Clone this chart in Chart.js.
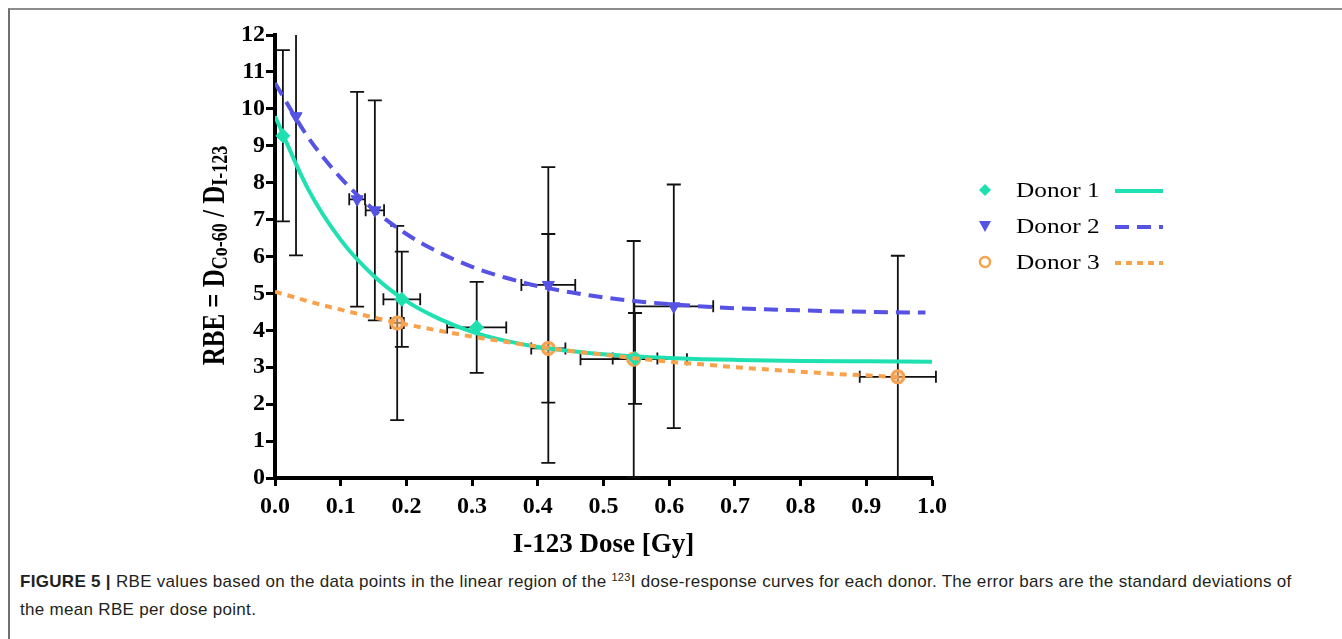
<!DOCTYPE html>
<html>
<head>
<meta charset="utf-8">
<script src="https://cdn.jsdelivr.net/npm/chart.js@4.4.0/dist/chart.umd.min.js"></script>
<style>
  html, body { margin: 0; padding: 0; background: #fff; }
  #wrap { position: relative; width: 1342px; height: 639px; overflow: hidden; }
  #frame { position: absolute; left: 8px; top: 8px; right: -4px; bottom: -4px; border-left: 2px solid #707070; border-top: 2px solid #8c8c8c; }
  #chartBox { position: absolute; left: 0; top: 0; width: 1342px; height: 565px; }
  #caption { position: absolute; left: 20px; top: 568px; font-family: "Liberation Sans", Arial, sans-serif; font-size: 17px; line-height: 28px; color: #231f20; white-space: nowrap; letter-spacing: 0.3px; }
  #caption sup { font-size: 11px; vertical-align: 6px; line-height: 0; }
</style>
</head>
<body>
<div id="wrap">
  <div id="frame"></div>
  <div id="chartBox"><canvas id="chart" width="1342" height="565"></canvas></div>
  <div id="caption"><b>FIGURE 5 |</b> RBE values based on the data points in the linear region of the <sup>123</sup>I dose-response curves for each donor. The error bars are the standard deviations of<br>the mean RBE per dose point.</div>
</div>
<script>
var donor1X  = [0.012, 0.193, 0.307, 0.548];
var donor1Y  = [9.27, 4.84, 4.08, 3.24];
var donor1EX = [0, 0.028, 0.045, 0.034];
var donor1EY = [2.32, 1.29, 1.23, 1.23];

var donor2X  = [0.032, 0.125, 0.152, 0.416, 0.607];
var donor2Y  = [9.8, 7.55, 7.25, 5.23, 4.65];
var donor2EX = [0, 0.012, 0.014, 0.041, 0.06];
var donor2EY = [3.77, 2.91, 2.98, 3.19, 3.3];

var donor3X  = [0.186, 0.416, 0.546, 0.948];
var donor3Y  = [4.2, 3.51, 3.22, 2.74];
var donor3EX = [0.01, 0.026, 0.081, 0.058];
var donor3EY = [2.63, 3.1, 3.2, 3.28];

// fitted curves
var fit1X = [0, 0.05, 0.1, 0.15, 0.2, 0.25, 0.3, 0.35, 0.4, 0.45, 0.5, 0.55, 0.6, 0.65, 0.7, 0.8, 0.9, 1.0];
var fit1Y = [9.8, 7.84, 6.45, 5.48, 4.79, 4.31, 3.96, 3.72, 3.55, 3.44, 3.35, 3.29, 3.25, 3.22, 3.2, 3.17, 3.16, 3.15];
var fit2X = [0, 0.05, 0.1, 0.15, 0.2, 0.25, 0.3, 0.35, 0.4, 0.45, 0.5, 0.55, 0.6, 0.7, 0.8, 0.9, 0.99];
var fit2Y = [10.7, 9.24, 8.13, 7.27, 6.61, 6.11, 5.72, 5.43, 5.2, 5.03, 4.89, 4.79, 4.71, 4.6, 4.54, 4.5, 4.48];
var fit3X = [0, 0.05, 0.1, 0.15, 0.2, 0.25, 0.3, 0.35, 0.4, 0.45, 0.5, 0.55, 0.6, 0.65, 0.7, 0.75, 0.8, 0.85, 0.9, 0.95];
var fit3Y = [5.05, 4.79, 4.56, 4.35, 4.16, 3.99, 3.83, 3.69, 3.56, 3.44, 3.34, 3.24, 3.15, 3.08, 3.0, 2.94, 2.88, 2.82, 2.78, 2.73];

var xTicks = [0, 0.1, 0.2, 0.3, 0.4, 0.5, 0.6, 0.7, 0.8, 0.9, 1.0];
var legendNames = ['Donor 1', 'Donor 2', 'Donor 3'];
var yTitleParts = [['RBE = D', false], ['Co-60', true], [' / D', false], ['I-123', true]];
var xTitle = 'I-123 Dose [Gy]';

var green = '#1fe0b0';
var blue = '#5552e4';
var orange = '#f8a24e';

function pts(xs, ys) {
  return xs.map(function(x, i) { return {x: x, y: ys[i]}; });
}

var errorBars = {
  id: 'errorBars',
  beforeDatasetsDraw: function(chart) {
    var ctx = chart.ctx, xs = chart.scales.x, ys = chart.scales.y, a = chart.chartArea;
    var sets = [[donor1X, donor1Y, donor1EX, donor1EY], [donor2X, donor2Y, donor2EX, donor2EY], [donor3X, donor3Y, donor3EX, donor3EY]];
    ctx.save();
    ctx.beginPath();
    ctx.rect(a.left - 10, a.top, a.right - a.left + 90, a.bottom - a.top);
    ctx.clip();
    ctx.strokeStyle = '#111';
    ctx.lineWidth = 1.8;
    sets.forEach(function(s) {
      for (var i = 0; i < s[0].length; i++) {
        var px = xs.getPixelForValue(s[0][i]);
        var py = ys.getPixelForValue(s[1][i]);
        var t = ys.getPixelForValue(s[1][i] + s[3][i]);
        var b = ys.getPixelForValue(s[1][i] - s[3][i]);
        ctx.beginPath();
        ctx.moveTo(px, t); ctx.lineTo(px, b);
        ctx.moveTo(px - 7, t); ctx.lineTo(px + 7, t);
        ctx.moveTo(px - 7, b); ctx.lineTo(px + 7, b);
        if (s[2][i] > 0) {
          var l = xs.getPixelForValue(s[0][i] - s[2][i]);
          var r = xs.getPixelForValue(s[0][i] + s[2][i]);
          ctx.moveTo(l, py); ctx.lineTo(r, py);
          ctx.moveTo(l, py - 6); ctx.lineTo(l, py + 6);
          ctx.moveTo(r, py - 6); ctx.lineTo(r, py + 6);
        }
        ctx.stroke();
      }
    });
    ctx.restore();
  }
};

var extras = {
  id: 'extras',
  afterDraw: function(chart) {
    var ctx = chart.ctx, a = chart.chartArea;
    // y axis title with subscripts
    ctx.save();
    ctx.translate(214, (a.top + a.bottom) / 2 - 1);
    ctx.rotate(-Math.PI / 2);
    ctx.scale(1, 1.25);
    ctx.fillStyle = '#000';
    ctx.textBaseline = 'alphabetic';
    var mainFont = 'bold 25px "Liberation Serif", "Times New Roman", serif';
    var subFont = 'bold 18px "Liberation Serif", "Times New Roman", serif';
    var total = 0;
    yTitleParts.forEach(function(p) {
      ctx.font = p[1] ? subFont : mainFont;
      total += ctx.measureText(p[0]).width;
    });
    var cx = -total / 2;
    yTitleParts.forEach(function(p) {
      ctx.font = p[1] ? subFont : mainFont;
      ctx.fillText(p[0], cx, p[1] ? 10 : 8);
      cx += ctx.measureText(p[0]).width;
    });
    ctx.restore();

    // legend
    var rows = [190, 226, 262];
    var styles = [
      {color: green, dash: [], marker: 'diamond'},
      {color: blue, dash: [14, 8], marker: 'tri'},
      {color: orange, dash: [6, 5], marker: 'ring'}
    ];
    ctx.save();
    rows.forEach(function(y, i) {
      var st = styles[i];
      ctx.fillStyle = st.color;
      ctx.strokeStyle = st.color;
      ctx.beginPath();
      if (st.marker === 'diamond') {
        ctx.moveTo(985, y - 6); ctx.lineTo(991, y); ctx.lineTo(985, y + 6); ctx.lineTo(979, y);
        ctx.closePath(); ctx.fill();
      } else if (st.marker === 'tri') {
        ctx.moveTo(979, y - 5); ctx.lineTo(991, y - 5); ctx.lineTo(985, y + 6);
        ctx.closePath(); ctx.fill();
      } else {
        ctx.lineWidth = 2.5;
        ctx.arc(985, y, 5, 0, Math.PI * 2);
        ctx.stroke();
      }
      ctx.save();
      ctx.translate(1016, y);
      ctx.scale(1.15, 1);
      ctx.fillStyle = '#000';
      ctx.font = '22px "Liberation Serif", "Times New Roman", serif';
      ctx.textBaseline = 'middle';
      ctx.fillText(legendNames[i], 0, 1);
      ctx.restore();
      ctx.beginPath();
      ctx.lineWidth = 4;
      ctx.setLineDash(st.dash);
      ctx.moveTo(1115, y + 1); ctx.lineTo(1163, y + 1);
      ctx.stroke();
      ctx.setLineDash([]);
    });
    ctx.restore();
  }
};

var serif = '"Liberation Serif", "Times New Roman", serif';

new Chart(document.getElementById('chart'), {
  type: 'scatter',
  data: {
    datasets: [
      {data: pts(fit3X, fit3Y), showLine: true, pointRadius: 0, borderColor: orange, borderWidth: 4, borderDash: [7, 6], cubicInterpolationMode: 'monotone'},
      {data: pts(fit2X, fit2Y), showLine: true, pointRadius: 0, borderColor: blue, borderWidth: 4, borderDash: [14, 8], cubicInterpolationMode: 'monotone'},
      {data: pts(fit1X, fit1Y), showLine: true, pointRadius: 0, borderColor: green, borderWidth: 4, cubicInterpolationMode: 'monotone'},
      {data: pts(donor1X, donor1Y), pointStyle: 'rectRot', pointRadius: 7, backgroundColor: green, borderColor: green},
      {data: pts(donor2X, donor2Y), pointStyle: 'triangle', rotation: 180, pointRadius: 7, backgroundColor: blue, borderColor: blue},
      {data: pts(donor3X, donor3Y), pointStyle: 'circle', pointRadius: 6, borderWidth: 3, backgroundColor: 'rgba(250,190,130,0.6)', borderColor: orange}
    ]
  },
  options: {
    responsive: false,
    animation: false,
    maintainAspectRatio: false,
    layout: {padding: {left: 180, right: 410, top: 35, bottom: 0}},
    plugins: {legend: {display: false}, tooltip: {enabled: false}},
    scales: {
      x: {
        type: 'linear', min: 0, max: 1,
        afterBuildTicks: function(s) { s.ticks = xTicks.map(function(v) { return {value: v}; }); },
        afterFit: function(s) { s.height = 87; },
        ticks: {color: '#000', padding: 6, font: {family: serif, size: 24, weight: 'bold'}, callback: function(v) { return v.toFixed(1); }, maxRotation: 0},
        grid: {drawOnChartArea: false, drawTicks: true, tickLength: 8, tickWidth: 3, tickColor: '#000'},
        border: {color: '#000', width: 4},
        title: {display: true, text: xTitle, color: '#000', font: {family: serif, size: 27, weight: 'bold'}, padding: {top: 0, bottom: 4}}
      },
      y: {
        min: 0, max: 12,
        afterFit: function(s) { s.width = 95; },
        ticks: {stepSize: 1, color: '#000', padding: 1, font: {family: serif, size: 24, weight: 'bold'}},
        grid: {drawOnChartArea: false, drawTicks: true, tickLength: 9, tickWidth: 3, tickColor: '#000'},
        border: {color: '#000', width: 4}
      }
    }
  },
  plugins: [errorBars, extras]
});
</script>
</body>
</html>
